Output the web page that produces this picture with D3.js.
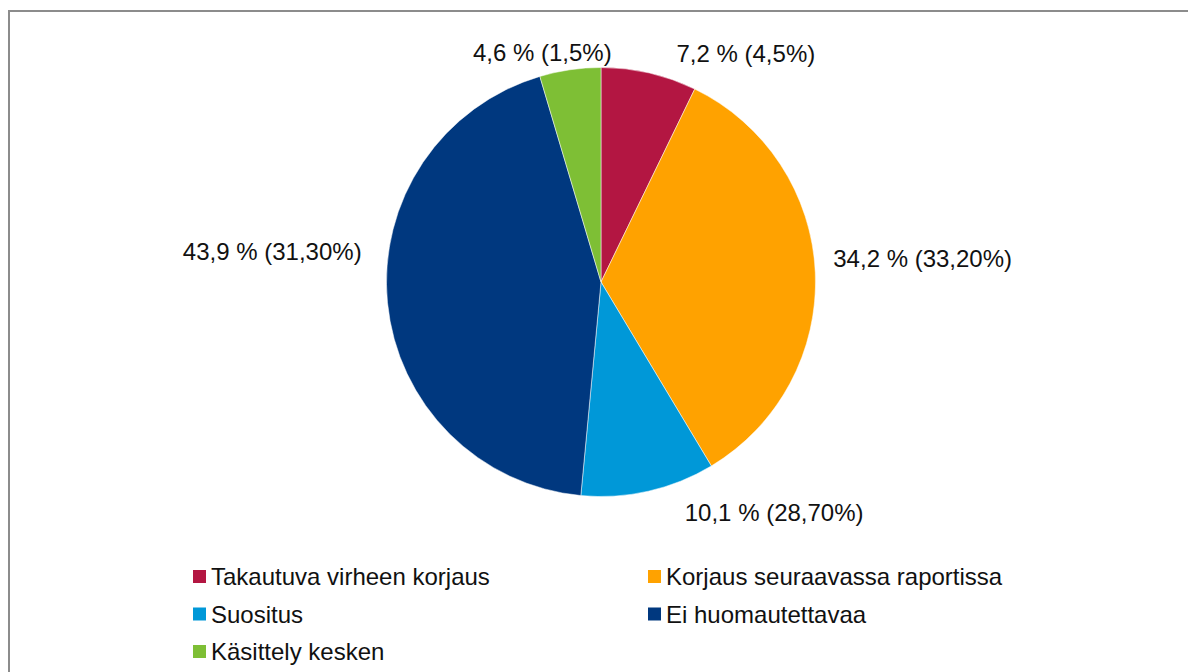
<!DOCTYPE html>
<meta charset="utf-8">
<style>
  body { margin: 0; background: #fff; }
  text { font-family: Arial, "Liberation Sans", sans-serif; fill: #111; }
</style>
<body>
<script src="https://d3js.org/d3.v7.min.js"></script>
<script>

// chart data
var categories = ["Takautuva virheen korjaus", "Korjaus seuraavassa raportissa", "Suositus", "Ei huomautettavaa", "Käsittely kesken"];
var shares = [7.2, 34.2, 10.1, 43.9, 4.6];
var labels = ["7,2 % (4,5%)", "34,2 % (33,20%)", "10,1 % (28,70%)", "43,9 % (31,30%)", "4,6 % (1,5%)"];
var colors = ["#B31642", "#FFA200", "#0098D8", "#00387F", "#7EBF35"];

// label placement tweaks (Excel style best fit), px
var labelNudge = [[22, 4], [-6, -13], [31, -2], [-2, -54], [45, 7]];

var width = 1188, height = 672;
var cx = 601, cy = 282, radius = 214.5;

var svg = d3.select("body")
            .append("svg")
            .attr("width", width)
            .attr("height", height);

// chart area frame
svg.append("rect")
    .attr("x", 9).attr("y", 11)
    .attr("width", width + 20).attr("height", height + 20)
    .style("fill", "none")
    .style("stroke", "#8c8c8c")
    .style("stroke-width", 2);

var pie = d3.pie().sort(null).value(function(d) { return d; });
var arcs = pie(shares);

var arc = d3.arc().innerRadius(0).outerRadius(radius);
var labelArc = d3.arc().innerRadius(radius + 24).outerRadius(radius + 24);

var g = svg.append("g").attr("transform", "translate(" + cx + "," + cy + ")");

g.selectAll("path")
    .data(arcs)
  .enter().append("path")
    .attr("d", arc)
    .style("fill", function(d, i) { return colors[i]; })
    .style("stroke", "#fff")
    .style("stroke-width", 0.5);

g.selectAll("text.lbl")
    .data(arcs)
  .enter().append("text")
    .attr("class", "lbl")
    .attr("x", function(d, i) { return labelArc.centroid(d)[0] + labelNudge[i][0]; })
    .attr("y", function(d, i) { return labelArc.centroid(d)[1] + labelNudge[i][1]; })
    .attr("dy", "0.35em")
    .attr("text-anchor", function(d) { return (d.startAngle + d.endAngle) / 2 < Math.PI ? "start" : "end"; })
    .style("font-size", "24px")
    .text(function(d, i) { return labels[i]; });

// legend, two columns
var legend = svg.append("g").attr("class", "legend");
var colX = [193, 648], rowY = 585, rowStep = 37.5;

var item = legend.selectAll("g")
    .data(categories)
  .enter().append("g")
    .attr("transform", function(d, i) {
      return "translate(" + colX[i % 2] + "," + (rowY + Math.floor(i / 2) * rowStep) + ")";
    });

item.append("rect")
    .attr("x", 0).attr("y", -15)
    .attr("width", 13).attr("height", 13)
    .style("fill", function(d, i) { return colors[i]; });

item.append("text")
    .attr("x", 18).attr("y", 0)
    .style("font-size", "24px")
    .text(function(d) { return d; });

</script>
</body>
